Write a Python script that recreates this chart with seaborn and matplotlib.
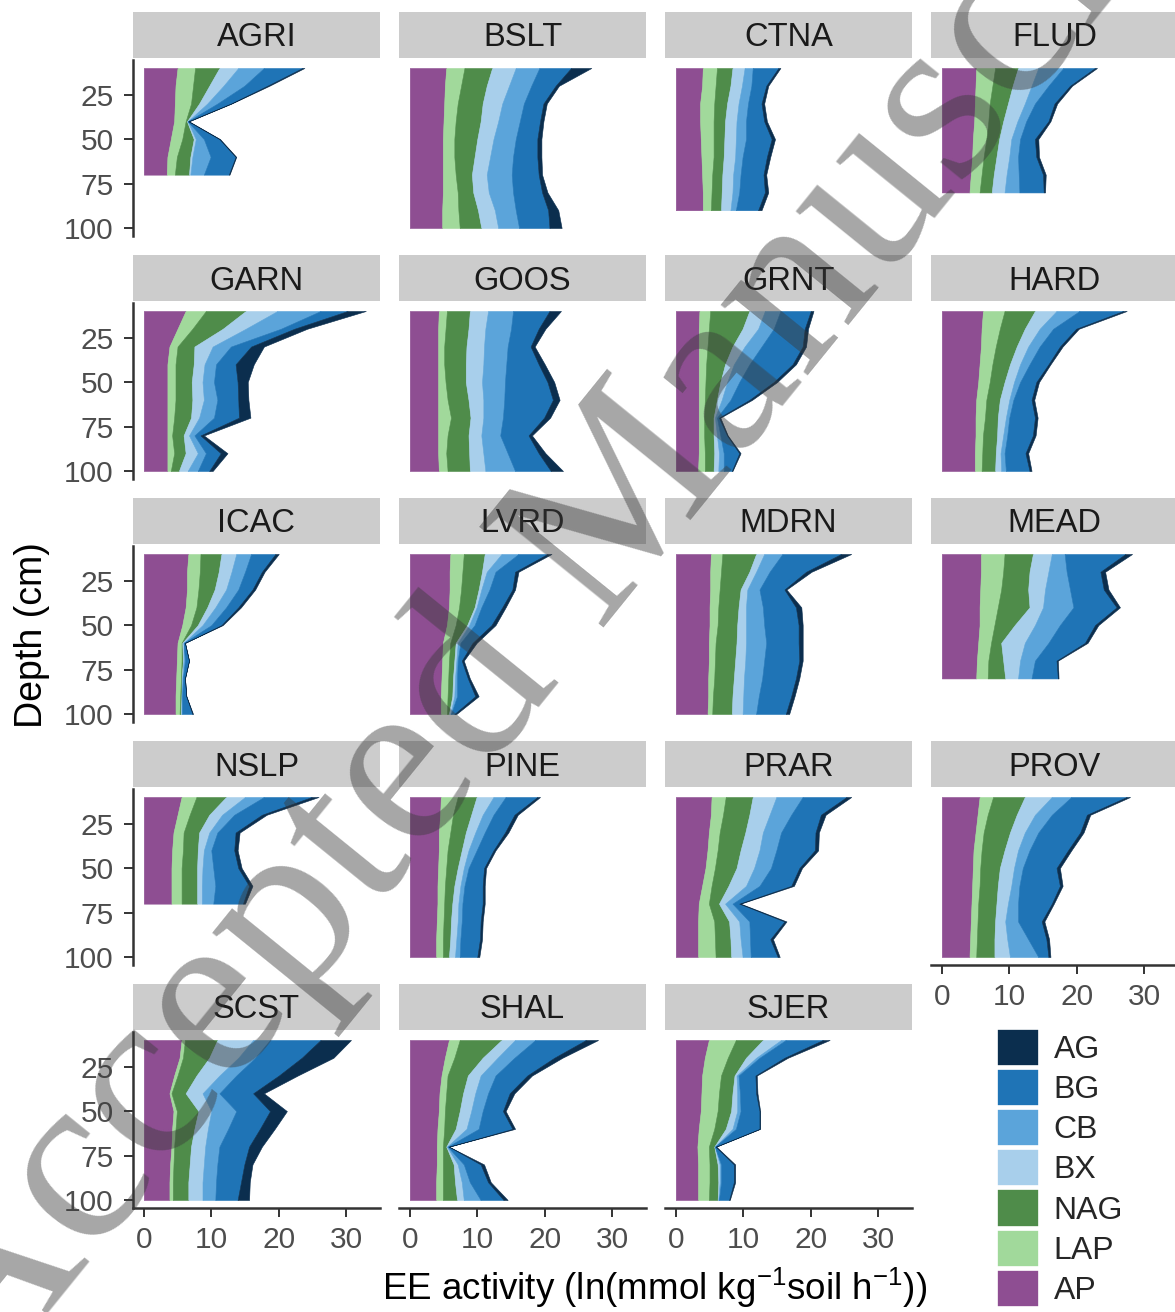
import numpy as np
import matplotlib
matplotlib.use("Agg")
import matplotlib.pyplot as plt
from matplotlib.patches import Patch
import seaborn as sns

# enzyme activity (ln units) per site, one row per enzyme, columns = depth steps
ENZYMES = ["AP", "LAP", "NAG", "BX", "CB", "BG", "AG"]
DEPTHS = [10, 20, 30, 40, 50, 60, 70, 80, 90, 100]
COLORS = ["#8E4E92", "#A1D99B", "#4F8C4A", "#A8CFEB", "#5BA4DA", "#1F74B6", "#0B2E4E"]

AGRI = [[5.0, 4.7, 4.6, 4.5, 4.0, 3.5, 3.4],
        [2.6, 2.6, 2.4, 1.7, 1.7, 1.4, 1.2],
        [3.6, 2.4, 1.2, 0.2, 1.7, 2.0, 2.1],
        [2.8, 2.1, 1.2, 0.1, 0.3, 0.3, 0.2],
        [3.8, 3.1, 1.5, 0.0, 1.2, 2.7, 2.0],
        [5.7, 3.4, 2.0, 0.1, 2.3, 3.7, 3.7],
        [0.3, 0.3, 0.1, 0.1, 0.1, 0.1, 0.1]]
BSLT = [[5.4, 5.2, 5.1, 5.0, 4.9, 4.9, 4.9, 4.9, 4.8, 4.8],
        [2.7, 2.4, 2.0, 1.8, 1.7, 1.7, 1.9, 2.2, 2.4, 2.6],
        [4.1, 3.8, 3.7, 3.7, 3.4, 3.0, 2.4, 2.3, 2.9, 3.2],
        [3.5, 3.3, 2.9, 2.6, 2.4, 2.3, 2.2, 2.3, 2.5, 2.5],
        [3.5, 3.3, 3.2, 3.2, 3.3, 3.4, 3.7, 3.6, 3.1, 3.1],
        [4.7, 3.6, 2.9, 3.0, 3.2, 3.6, 4.0, 4.3, 4.8, 4.5],
        [3.0, 0.5, 0.5, 0.5, 0.6, 0.6, 0.5, 0.8, 1.5, 1.8]]
CTNA = [[4.0, 3.9, 3.6, 3.6, 3.7, 3.8, 3.9, 4.0, 4.0],
        [2.1, 2.0, 2.1, 2.0, 1.9, 1.8, 1.5, 1.3, 1.2],
        [2.3, 2.2, 1.9, 1.7, 1.6, 1.5, 1.5, 1.5, 1.5],
        [1.8, 1.7, 1.7, 1.7, 1.7, 1.7, 1.6, 1.6, 1.4],
        [1.2, 1.4, 1.4, 1.4, 1.5, 1.1, 1.1, 1.0, 0.8],
        [3.8, 2.2, 2.0, 2.7, 3.8, 3.6, 3.4, 3.8, 3.3],
        [0.3, 0.3, 0.4, 0.4, 0.5, 0.5, 0.4, 0.5, 0.5]]
FLUD = [[5.1, 5.0, 4.9, 4.8, 4.6, 4.5, 4.3, 4.1],
        [2.8, 2.5, 2.2, 2.1, 2.0, 1.7, 1.6, 1.5],
        [3.4, 3.0, 2.7, 2.2, 1.9, 1.9, 1.8, 1.8],
        [3.0, 2.8, 2.5, 2.1, 1.8, 1.9, 1.9, 1.9],
        [3.7, 2.5, 1.5, 1.3, 1.3, 1.3, 1.8, 2.2],
        [4.7, 3.2, 2.9, 3.3, 2.2, 2.7, 3.6, 3.6],
        [0.3, 0.3, 0.4, 0.3, 0.5, 0.4, 0.4, 0.2]]
GARN = [[6.2, 5.0, 3.8, 3.5, 3.5, 3.5, 3.5, 3.5, 3.5, 3.5],
        [3.0, 2.2, 1.2, 1.2, 1.2, 1.2, 1.0, 0.7, 1.0, 0.5],
        [5.9, 4.5, 2.5, 2.7, 2.4, 2.5, 2.5, 1.7, 1.7, 1.2],
        [4.7, 3.4, 2.7, 1.6, 1.6, 1.7, 1.2, 0.8, 1.8, 1.3],
        [6.4, 5.2, 2.7, 1.7, 1.7, 2.0, 2.2, 0.8, 1.2, 1.5],
        [4.0, 2.0, 3.0, 2.9, 3.5, 3.1, 3.7, 0.9, 2.2, 1.7],
        [2.7, 1.9, 1.9, 2.7, 1.5, 1.5, 1.7, 0.5, 1.0, 0.5]]
GOOS = [[4.3, 4.2, 4.2, 4.2, 4.2, 4.2, 4.2, 4.2, 4.2, 4.3],
        [1.2, 1.1, 0.9, 0.9, 1.1, 1.4, 1.9, 1.4, 1.2, 1.3],
        [3.4, 3.4, 3.3, 3.2, 3.0, 3.1, 2.9, 3.1, 3.4, 3.3],
        [2.7, 2.5, 2.6, 2.6, 2.4, 2.2, 1.9, 1.9, 2.1, 2.3],
        [3.7, 3.8, 3.5, 3.4, 3.4, 3.1, 2.9, 2.8, 3.6, 4.4],
        [5.4, 4.1, 3.4, 4.8, 6.3, 7.2, 6.1, 4.2, 4.6, 5.3],
        [1.7, 1.0, 0.6, 0.9, 1.0, 1.0, 0.9, 0.5, 1.0, 1.8]]
GRNT = [[3.5, 3.4, 3.4, 3.4, 3.4, 3.4, 3.4, 3.4, 3.4, 3.3],
        [1.6, 1.5, 1.3, 1.1, 1.0, 0.9, 0.8, 0.8, 0.9, 1.0],
        [5.8, 5.0, 3.7, 2.8, 2.2, 1.8, 1.4, 1.4, 1.4, 1.3],
        [2.3, 2.3, 1.8, 1.3, 1.0, 0.7, 0.2, 0.5, 0.7, 0.7],
        [2.3, 2.3, 2.5, 2.3, 1.8, 1.3, 0.3, 0.5, 0.7, 0.8],
        [4.5, 4.6, 6.1, 6.4, 5.1, 2.8, 0.3, 1.0, 2.3, 1.2],
        [0.4, 0.5, 0.5, 0.5, 0.5, 0.4, 0.2, 0.1, 0.2, 0.1]]
HARD = [[6.1, 5.9, 5.8, 5.6, 5.4, 5.1, 5.0, 5.0, 4.9, 4.9],
        [3.2, 2.7, 2.2, 1.9, 1.7, 1.5, 1.4, 1.1, 1.1, 1.0],
        [4.5, 3.7, 3.1, 2.6, 2.2, 2.0, 1.9, 2.1, 2.0, 2.0],
        [3.2, 2.2, 1.7, 1.5, 1.4, 1.4, 1.2, 0.9, 0.7, 0.9],
        [3.4, 2.0, 1.7, 1.4, 0.9, 0.6, 0.5, 0.6, 0.6, 0.7],
        [6.5, 3.4, 3.0, 2.8, 2.4, 2.7, 3.8, 3.8, 3.1, 3.5],
        [0.5, 0.4, 0.4, 0.3, 0.4, 0.4, 0.4, 0.4, 0.4, 0.3]]
ICAC = [[6.6, 6.4, 6.4, 6.2, 5.7, 5.0, 4.9, 4.8, 4.7, 4.7],
        [1.8, 1.9, 1.7, 1.6, 1.3, 0.6, 0.7, 0.7, 0.7, 0.6],
        [3.1, 2.8, 2.4, 1.6, 1.0, 0.1, 0.2, 0.1, 0.2, 0.2],
        [2.2, 1.9, 1.7, 1.2, 0.7, 0.2, 0.1, 0.1, 0.0, 0.1],
        [2.2, 2.0, 1.8, 1.6, 1.3, 0.0, 0.2, 0.1, 0.1, 0.1],
        [3.6, 2.5, 2.1, 1.8, 1.5, 0.2, 0.6, 0.3, 0.6, 1.5],
        [0.5, 0.4, 0.4, 0.4, 0.2, 0.0, 0.0, 0.0, 0.0, 0.1]]
LVRD = [[6.0, 5.9, 5.9, 5.8, 5.5, 4.9, 4.8, 4.7, 4.6, 4.6],
        [2.0, 1.9, 1.7, 1.5, 1.3, 1.1, 1.0, 1.0, 1.0, 0.9],
        [3.1, 2.9, 2.6, 2.3, 1.7, 0.8, 0.8, 0.7, 0.7, 0.3],
        [2.5, 0.7, 0.4, 0.3, 0.3, 0.3, 0.3, 0.3, 0.3, 0.2],
        [2.5, 1.3, 1.2, 0.7, 0.8, 0.4, 0.2, 0.3, 0.4, 0.1],
        [4.3, 2.9, 3.4, 3.1, 2.5, 1.8, 0.6, 1.6, 2.7, 0.5],
        [0.6, 0.5, 0.4, 0.5, 0.6, 0.6, 0.3, 0.3, 0.5, 0.3]]
MDRN = [[5.2, 5.1, 5.1, 5.0, 5.0, 4.9, 4.9, 4.8, 4.8, 4.7],
        [1.7, 1.6, 1.4, 1.3, 1.2, 1.0, 0.9, 0.9, 0.7, 0.7],
        [5.0, 4.2, 3.1, 3.0, 2.9, 3.1, 3.0, 2.9, 2.9, 2.9],
        [1.2, 1.0, 1.0, 1.1, 1.3, 1.4, 1.5, 1.5, 1.6, 1.6],
        [2.7, 2.0, 1.8, 2.5, 2.7, 3.0, 2.8, 2.7, 2.3, 2.0],
        [8.7, 5.4, 3.7, 4.9, 5.1, 4.8, 5.2, 5.0, 4.8, 4.4],
        [1.5, 0.8, 0.3, 0.8, 0.6, 0.6, 0.5, 0.5, 0.5, 0.5]]
MEAD = [[5.8, 5.8, 5.7, 5.6, 5.6, 5.4, 5.2, 5.1],
        [3.5, 3.3, 3.1, 2.7, 2.2, 1.9, 1.7, 1.7],
        [4.2, 3.9, 4.0, 4.7, 3.0, 1.5, 2.2, 2.6],
        [2.8, 2.8, 2.5, 2.0, 3.0, 3.5, 2.5, 1.9],
        [1.9, 2.7, 3.7, 4.5, 3.7, 3.5, 2.2, 2.0],
        [9.0, 5.0, 5.0, 6.4, 5.2, 5.4, 3.2, 3.9],
        [1.0, 0.7, 0.7, 0.5, 0.5, 0.4, 0.2, 0.1]]
NSLP = [[5.6, 5.0, 4.4, 4.2, 4.1, 4.1, 4.1],
        [2.2, 1.8, 1.5, 1.6, 1.5, 1.5, 1.5],
        [4.4, 2.9, 2.3, 2.2, 2.3, 2.3, 2.3],
        [2.8, 1.9, 1.5, 0.9, 0.8, 0.7, 0.7],
        [2.8, 1.8, 1.2, 1.1, 1.6, 2.0, 1.7],
        [7.1, 4.1, 2.7, 3.4, 3.7, 5.0, 4.4],
        [1.0, 0.7, 0.6, 0.5, 0.5, 0.5, 0.3]]
PINE = [[4.6, 4.5, 4.3, 4.3, 4.2, 4.1, 4.1, 4.0, 3.9, 3.9],
        [2.5, 1.9, 1.7, 1.3, 1.2, 1.1, 1.0, 1.0, 1.0, 1.0],
        [2.8, 2.7, 2.3, 2.1, 1.7, 1.4, 1.2, 1.1, 1.1, 0.9],
        [2.5, 1.7, 1.4, 1.0, 0.9, 0.9, 0.9, 1.0, 0.9, 0.9],
        [1.8, 1.6, 1.4, 1.2, 0.7, 0.6, 0.6, 0.6, 0.6, 0.7],
        [4.7, 3.1, 3.0, 2.5, 2.3, 2.7, 3.0, 2.8, 2.9, 2.6],
        [0.4, 0.5, 0.5, 0.3, 0.3, 0.3, 0.3, 0.3, 0.3, 0.3]]
PRAR = [[5.3, 5.2, 4.9, 4.7, 4.4, 3.9, 3.4, 3.3, 3.3, 3.3],
        [2.1, 1.8, 1.6, 1.5, 1.4, 1.4, 1.5, 2.4, 2.5, 2.6],
        [4.0, 3.9, 3.8, 3.4, 3.2, 2.5, 1.5, 2.2, 2.3, 2.3],
        [3.5, 3.0, 2.6, 2.8, 2.6, 2.6, 0.9, 1.5, 1.5, 1.7],
        [3.9, 3.2, 2.7, 2.5, 2.5, 2.0, 1.1, 1.5, 1.4, 1.2],
        [6.5, 4.4, 5.1, 5.7, 4.2, 4.7, 1.0, 5.2, 3.0, 4.0],
        [0.7, 0.7, 0.5, 0.5, 0.4, 0.4, 0.2, 0.3, 0.4, 0.3]]
PROV = [[5.6, 5.3, 5.0, 4.7, 4.6, 4.5, 4.4, 4.3, 4.2, 4.1],
        [2.0, 1.5, 1.2, 1.2, 1.1, 1.1, 1.0, 1.0, 1.0, 1.0],
        [4.7, 4.3, 3.9, 3.4, 2.9, 2.7, 2.7, 2.6, 2.6, 2.7],
        [4.0, 2.7, 2.2, 2.0, 2.1, 2.0, 1.7, 1.5, 1.9, 2.3],
        [2.9, 2.5, 2.0, 1.7, 1.3, 1.2, 1.5, 1.9, 3.1, 4.2],
        [8.2, 5.2, 6.2, 5.7, 5.0, 6.0, 5.0, 3.5, 2.7, 1.5],
        [0.5, 0.5, 0.5, 0.5, 0.5, 0.4, 0.3, 0.4, 0.4, 0.3]]
SCST = [[5.6, 5.3, 4.5, 3.8, 4.4, 4.2, 4.1, 3.9, 3.8, 3.8],
        [0.5, 0.5, 0.5, 0.3, 0.5, 0.5, 0.4, 0.5, 0.5, 0.5],
        [4.8, 3.9, 2.8, 2.1, 3.2, 2.8, 2.5, 2.4, 2.3, 2.3],
        [5.3, 4.3, 3.4, 2.5, 1.9, 2.0, 2.1, 2.1, 2.1, 2.1],
        [2.5, 2.5, 2.5, 2.5, 3.7, 3.0, 2.1, 2.0, 2.0, 1.9],
        [7.5, 6.9, 6.3, 5.0, 5.0, 4.7, 4.4, 4.0, 3.7, 3.3],
        [4.5, 4.7, 2.8, 1.6, 2.5, 2.2, 1.9, 1.2, 1.3, 1.7]]
SHAL = [[5.8, 5.2, 4.7, 4.4, 4.3, 4.1, 4.0, 4.0, 3.9, 3.9],
        [1.6, 1.4, 0.9, 1.0, 0.9, 1.0, 0.9, 0.9, 1.0, 1.0],
        [6.2, 4.2, 3.0, 2.5, 2.2, 1.7, 0.5, 1.6, 1.8, 2.1],
        [2.0, 2.2, 1.9, 1.8, 1.7, 1.6, 0.1, 0.6, 1.0, 1.0],
        [3.0, 2.5, 2.2, 1.9, 1.7, 1.8, 0.1, 0.9, 1.2, 2.5],
        [7.5, 5.9, 4.7, 3.2, 3.0, 5.0, 0.2, 2.5, 2.7, 3.4],
        [1.8, 1.2, 0.7, 0.7, 0.4, 0.4, 0.0, 0.5, 0.4, 0.6]]
SJER = [[4.9, 4.3, 3.9, 3.8, 3.7, 3.4, 3.2, 3.3, 3.3, 3.3],
        [4.0, 3.4, 2.8, 2.6, 2.5, 2.3, 1.7, 1.7, 1.7, 1.6],
        [4.0, 2.7, 2.0, 2.0, 2.0, 1.7, 0.8, 1.2, 1.3, 1.3],
        [2.7, 1.5, 0.3, 0.7, 0.9, 1.0, 0.1, 0.3, 0.2, 0.1],
        [0.7, 0.5, 0.3, 0.4, 0.5, 0.5, 0.0, 0.2, 0.2, 0.1],
        [5.5, 3.7, 2.5, 2.4, 2.8, 3.5, 0.1, 1.9, 1.9, 1.5],
        [1.0, 0.5, 0.2, 0.2, 0.1, 0.1, 0.1, 0.2, 0.2, 0.1]]

SITES = ["AGRI", "BSLT", "CTNA", "FLUD", "GARN", "GOOS", "GRNT", "HARD", "ICAC", "LVRD",
         "MDRN", "MEAD", "NSLP", "PINE", "PRAR", "PROV", "SCST", "SHAL", "SJER"]
SITE_DATA = [AGRI, BSLT, CTNA, FLUD, GARN, GOOS, GRNT, HARD, ICAC, LVRD,
             MDRN, MEAD, NSLP, PINE, PRAR, PROV, SCST, SHAL, SJER]

sns.set_theme(style="white")
plt.rcParams['font.family'] = ['Liberation Sans', 'DejaVu Sans']
plt.rcParams['mathtext.fontset'] = 'custom'
plt.rcParams['mathtext.rm'] = 'Liberation Sans'
plt.rcParams['mathtext.default'] = 'regular'

W, H = 1175, 1312
fig = plt.figure(figsize=(W / 100, H / 100), dpi=100)


def rect(left, top, width, height):
    # pixel box (from top-left) -> figure fraction
    return [left / W, 1 - (top + height) / H, width / W, height / H]


lefts = [133, 399, 665, 931]
tops = [60, 303, 546, 789, 1032]
pw, ph = 247, 176
bottom_panels = ["SCST", "SHAL", "SJER", "PROV"]
axis_col = "#333333"

for i, (site, vals) in enumerate(zip(SITES, SITE_DATA)):
    r, c = divmod(i, 4)
    ax = fig.add_axes(rect(lefts[c], tops[r], pw, ph))
    vals = np.array(vals)
    depth = DEPTHS[:vals.shape[1]]
    cum = np.cumsum(vals, axis=0)
    lower = np.zeros(len(depth))
    for k, enz in enumerate(ENZYMES):
        ax.fill_betweenx(depth, lower, cum[k], color=COLORS[k], lw=0.4, ec=COLORS[k])
        lower = cum[k]
    ax.set_xlim(-1.6, 35.0)
    ax.set_ylim(104.5, 5.5)
    ax.set_facecolor("white")
    for s in ax.spines.values():
        s.set_visible(False)
    ax.set_xticks([0, 10, 20, 30])
    ax.set_yticks([25, 50, 75, 100])
    ax.tick_params(axis="both", length=6.5, width=1.4, color=axis_col,
                   labelsize=21.5, labelcolor="#4D4D4D")
    ax.tick_params(axis="y", pad=7.5)
    ax.tick_params(axis="x", pad=6.5)
    if c == 0:
        ax.spines["left"].set_visible(True)
        ax.spines["left"].set_linewidth(1.8)
        ax.spines["left"].set_color(axis_col)
        ax.tick_params(axis="y", left=True)
    else:
        ax.tick_params(axis="y", left=False, labelleft=False)
    if site in bottom_panels:
        ax.spines["bottom"].set_visible(True)
        ax.spines["bottom"].set_linewidth(1.8)
        ax.spines["bottom"].set_color(axis_col)
        ax.tick_params(axis="x", bottom=True)
    else:
        ax.tick_params(axis="x", bottom=False, labelbottom=False)

    # facet strip
    sax = fig.add_axes(rect(lefts[c], tops[r] - 48, pw, 46))
    sax.set_facecolor("#CCCCCC")
    sax.set_xticks([])
    sax.set_yticks([])
    for s in sax.spines.values():
        s.set_visible(False)
    sax.text(0.5, 0.25, site, ha="center", va="baseline", fontsize=23.5,
             color="#1A1A1A", transform=sax.transAxes)

fig.text(32 / W, 1 - 635 / H, "Depth (cm)", rotation=90, ha="center", va="center",
         fontsize=27, color="black")
fig.text(655 / W, 1 - 1288 / H, r"EE activity (ln(mmol kg$^{-1}$soil h$^{-1}$))",
         ha="center", va="center", fontsize=26.5, color="black")

# legend, top entry is the last stacked enzyme
handles = [Patch(facecolor=COLORS[k], edgecolor="white", lw=1.2) for k in range(6, -1, -1)]
labels = [ENZYMES[k] for k in range(6, -1, -1)]
fig.legend(handles, labels, loc="upper left", bbox_to_anchor=(997 / W, 1 - 1029 / H),
           frameon=False, fontsize=23, handlelength=1.32, handleheight=1.41,
           labelspacing=0.094, handletextpad=0.45, borderpad=0, borderaxespad=0)

# watermark
fig.text(595 / W, 1 - 545 / H, "Accepted Manuscript", rotation=51, rotation_mode="anchor",
         ha="center", va="center", fontsize=176, family="Liberation Serif",
         color="#3A3A3A", alpha=0.45, zorder=20)

fig.savefig("out.png", dpi=100)
